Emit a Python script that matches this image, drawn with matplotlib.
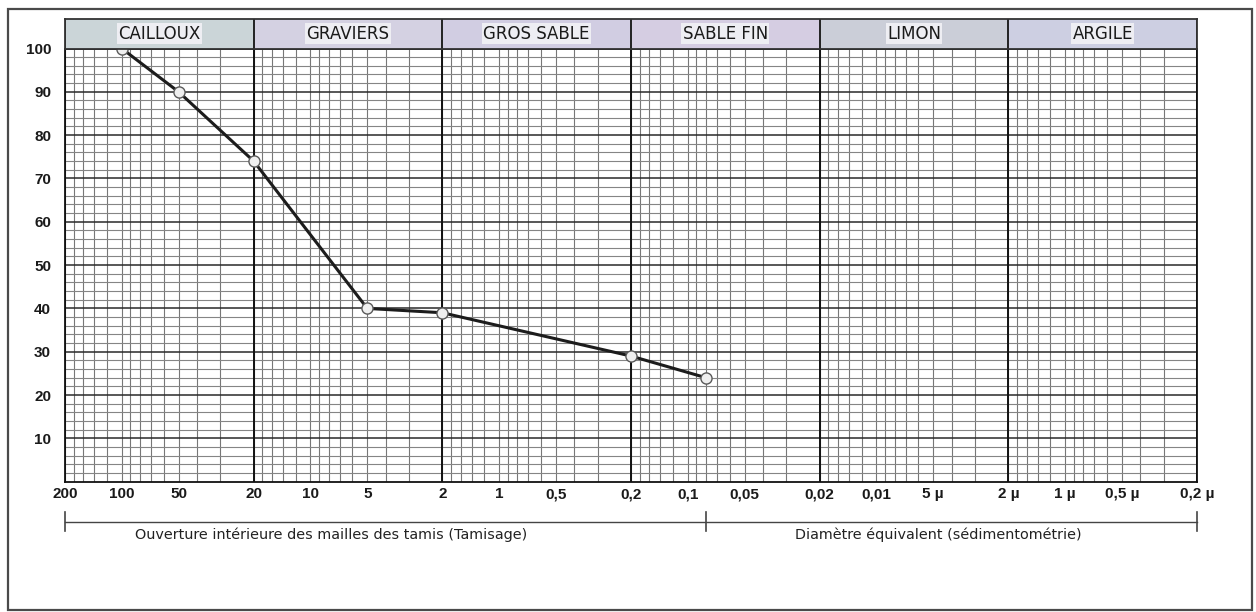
import matplotlib
matplotlib.use("Agg")
import matplotlib.pyplot as plt
from matplotlib.patches import Rectangle
from matplotlib.lines import Line2D
import numpy as np

# Sieve / sedimentation results: grain size (mm) vs cumulative passing (%)
diam_mm = [100, 50, 20, 5, 2, 0.2, 0.08]
passing = [100, 90, 74, 40, 39, 29, 24]

# Soil classes and their size bounds (mm)
classes = ["CAILLOUX", "GRAVIERS", "GROS SABLE", "SABLE FIN", "LIMON", "ARGILE"]
class_bounds = [200, 20, 2, 0.2, 0.02, 0.002, 0.0002]
class_colors = ["#cbd5d8", "#d4d1e2", "#d1cde2", "#d5cde2", "#cbced8", "#cdcfe2"]

# Axis labels
tick_pos = [200, 100, 50, 20, 10, 5, 2, 1, 0.5, 0.2, 0.1, 0.05, 0.02, 0.01,
            0.005, 0.002, 0.001, 0.0005, 0.0002]
tick_lbl = ["200", "100", "50", "20", "10", "5", "2", "1", "0,5", "0,2", "0,1",
            "0,05", "0,02", "0,01", "5 µ", "2 µ", "1 µ", "0,5 µ", "0,2 µ"]
y_ticks = [10, 20, 30, 40, 50, 60, 70, 80, 90, 100]
split_mm = 0.08

W, H = 1256, 612
fig = plt.figure(figsize=(W / 100, H / 100), dpi=100)

def px_axes(x0, y_top, x1, y_bot):
    return fig.add_axes([x0 / W, 1 - y_bot / H, (x1 - x0) / W, (y_bot - y_top) / H])

X0, X1 = 65, 1197
ax = px_axes(X0, 48.5, X1, 481.7)
hd = px_axes(X0, 19, X1, 48.5)

# ---- main log-grid paper ----
ax.set_xscale("log")
ax.set_xlim(class_bounds[0], class_bounds[-1])
ax.set_ylim(0, 100)

mults = [1, 1.2, 1.4, 1.6, 1.8, 2, 3, 4, 5, 6, 7, 8, 9]
grid_x = []
for e in range(-4, 3):
    for m in mults:
        v = m * 10.0 ** e
        if 0.0002 * 0.999 <= v <= 200 * 1.001:
            grid_x.append(v)
for v in grid_x:
    ax.axvline(v, color="#777777", lw=0.8, zorder=1)
for v in class_bounds:
    ax.axvline(v, color="#111111", lw=1.4, zorder=2)
for yv in range(2, 100, 2):
    if yv % 10 == 0:
        ax.axhline(yv, color="#2a2a2a", lw=1.1, zorder=1.5)
    else:
        ax.axhline(yv, color="#858585", lw=0.8, zorder=1)

ax.set_yticks(y_ticks)
ax.set_yticklabels([str(v) for v in y_ticks])
ax.set_xticks(tick_pos)
ax.set_xticklabels(tick_lbl)
ax.xaxis.set_minor_locator(matplotlib.ticker.NullLocator())
ax.tick_params(axis="both", length=0)
ax.tick_params(axis="y", pad=10)
ax.tick_params(axis="x", pad=4)
for lab in ax.get_xticklabels() + ax.get_yticklabels():
    lab.set_fontfamily("Liberation Sans")
    lab.set_fontweight("bold")
    lab.set_fontsize(11)
    lab.set_color("#1a1a1a")
for sp in ax.spines.values():
    sp.set_color("#111111")
    sp.set_linewidth(1.3)

# ---- grading curve ----
ax.plot(diam_mm, passing, color="#1c1c1c", lw=2.2, zorder=5, clip_on=False)
ax.plot(diam_mm, passing, ls="none", marker="o", ms=8, mfc="#efefef",
        mec="#5a5a5a", mew=1.0, zorder=6, clip_on=False)

# ---- class header band ----
hd.set_xscale("log")
hd.set_xlim(class_bounds[0], class_bounds[-1])
hd.set_ylim(0, 1)
hd.set_xticks([])
hd.set_yticks([])
hd.xaxis.set_minor_locator(matplotlib.ticker.NullLocator())
for i, name in enumerate(classes):
    a, b = class_bounds[i], class_bounds[i + 1]
    hd.add_patch(Rectangle((b, 0), a - b, 1, facecolor=class_colors[i],
                           edgecolor="none", zorder=1))
    xc = np.sqrt(a * b)
    hd.text(xc, 0.5, name, ha="center", va="center", fontsize=12,
            family="DejaVu Sans", color="#1a1a1a", zorder=3,
            bbox=dict(facecolor="#eeeef3", edgecolor="none", pad=1.0))
for v in class_bounds:
    hd.axvline(v, color="#222222", lw=1.4, zorder=2)
for sp in hd.spines.values():
    sp.set_color("#333333")
    sp.set_linewidth(1.3)

# ---- method brackets under the axis ----
fx = lambda p: p / W
fy = lambda p: 1 - p / H
xs = ax.transData.transform([(class_bounds[0], 0), (split_mm, 0), (class_bounds[-1], 0)])
ys_line = 521.7
bracket_col = "#444444"
x_left = X0
x_split = xs[1][0]
x_right = X1
fig.add_artist(Line2D([fx(x_left), fx(x_right)], [fy(ys_line), fy(ys_line)],
                      color=bracket_col, lw=1.0))
for xp in (x_left, x_split, x_right):
    fig.add_artist(Line2D([fx(xp), fx(xp)], [fy(512), fy(531)],
                          color=bracket_col, lw=1.2))
fig.text(fx(331), fy(535), "Ouverture intérieure des mailles des tamis (Tamisage)",
         ha="center", va="center", fontsize=10.4, family="DejaVu Sans", color="#222222")
fig.text(fx(938), fy(535), "Diamètre équivalent (sédimentométrie)",
         ha="center", va="center", fontsize=10.4, family="DejaVu Sans", color="#222222")

# ---- outer frame ----
fig.add_artist(Rectangle((fx(7.5), fy(609.5)), (1252 - 7.5) / W, (609.5 - 9) / H,
                         transform=fig.transFigure, facecolor="none",
                         edgecolor="#4a4a4a", lw=1.6))

fig.savefig("out.png", dpi=100)
